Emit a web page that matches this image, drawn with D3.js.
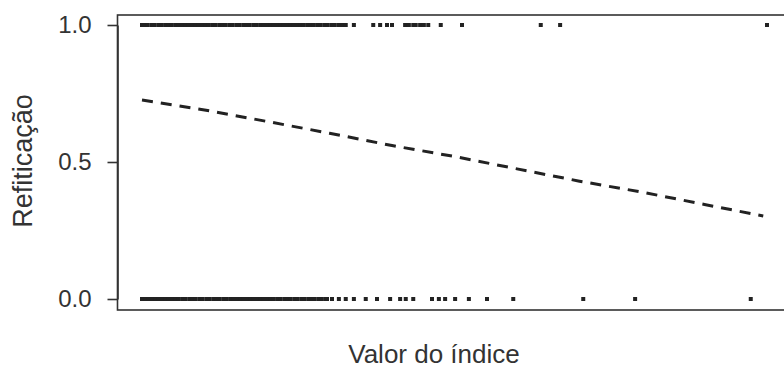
<!DOCTYPE html>
<html>
<head>
<meta charset="utf-8">
<script src="https://cdn.jsdelivr.net/npm/d3@7"></script>
<style>
  html, body { margin: 0; padding: 0; background: #fff; }
  svg { display: block; }
  .axis text { font-family: "Liberation Sans", Arial, sans-serif; font-size: 24px; fill: #333; }
</style>
</head>
<body>
<div id="chart"></div>
<script>
// observations with Refiticação = 1 (index value)
const xTop = [
  0.00, 0.04, 0.09, 0.15, 0.20, 0.26, 0.31, 0.37, 0.42, 0.47, 0.53, 0.58, 0.64, 0.69, 0.75,
  0.80, 0.86, 0.91, 0.96, 1.02, 1.07, 1.13, 1.18, 1.24, 1.29, 1.34, 1.40, 1.45, 1.51, 1.56,
  1.62, 1.67, 1.72, 1.78, 1.83, 1.89, 1.94, 2.00, 2.05, 2.10, 2.16, 2.21, 2.27, 2.32, 2.38,
  2.43, 2.48, 2.54, 2.59, 2.65, 2.70, 2.75, 2.81, 2.86, 2.92, 2.97, 3.03, 3.08, 3.14, 3.20,
  3.26, 3.39, 3.70, 3.81, 3.92, 4.00, 4.21, 4.27, 4.34, 4.38, 4.45, 4.51, 4.58, 4.78, 5.12,
  6.38, 6.69, 10.00
];

// observations with Refiticação = 0
const xBottom = [
  0.00, 0.05, 0.10, 0.16, 0.21, 0.27, 0.32, 0.38, 0.43, 0.48, 0.54, 0.59, 0.65, 0.70, 0.76,
  0.81, 0.86, 0.92, 0.97, 1.03, 1.08, 1.14, 1.19, 1.24, 1.30, 1.35, 1.41, 1.46, 1.52, 1.57,
  1.62, 1.68, 1.73, 1.79, 1.84, 1.90, 1.95, 2.00, 2.06, 2.11, 2.17, 2.22, 2.28, 2.33, 2.38,
  2.44, 2.49, 2.55, 2.60, 2.66, 2.71, 2.76, 2.82, 2.87, 2.93, 2.96,
  3.04, 3.15, 3.26, 3.39, 3.58, 3.76, 3.97, 4.13, 4.22, 4.34, 4.64, 4.75, 4.85, 5.01, 5.23,
  5.52, 5.94, 7.06, 7.89, 9.74
];

// fitted probability curve
const fitX = [0, 1, 2, 3, 4, 5, 6, 7, 8, 9, 9.94];
const fitY = [0.726, 0.69, 0.648, 0.605, 0.56, 0.52, 0.475, 0.43, 0.39, 0.345, 0.303];

const yTicks = [0, 0.5, 1];

const W = 784, H = 369;
const svg = d3.select("#chart").append("svg")
  .attr("width", W)
  .attr("height", H);

const x = d3.scaleLinear().domain([0, 10]).range([142, 767]);
const y = d3.scaleLinear().domain([0, 1]).range([299, 25]);

// plot box (right side runs off the picture)
svg.append("rect")
  .attr("x", 117.5)
  .attr("y", 15)
  .attr("width", 675)
  .attr("height", 295)
  .attr("fill", "none")
  .attr("stroke", "#333")
  .attr("stroke-width", 1.6);

// y axis
svg.append("g")
  .attr("class", "axis")
  .attr("transform", "translate(117.5,0)")
  .call(d3.axisLeft(y).tickValues(yTicks).tickFormat(d3.format(".1f"))
    .tickSize(10).tickSizeOuter(0).tickPadding(16))
  .call(g => g.selectAll("line, path").attr("stroke", "#333").attr("stroke-width", 1.6));

// points
const sz = 4;
svg.append("g").selectAll("rect")
  .data(xTop.map(v => ({ v, r: 1 })).concat(xBottom.map(v => ({ v, r: 0 }))))
  .enter()
  .append("rect")
  .attr("x", d => x(d.v) - sz / 2)
  .attr("y", d => y(d.r) - sz / 2)
  .attr("width", sz)
  .attr("height", sz)
  .attr("fill", "#222");

// fitted curve
const fitLine = d3.line().x(d => x(d[0])).y(d => y(d[1]));
svg.append("path")
  .datum(fitX.map((v, i) => [v, fitY[i]]))
  .attr("d", fitLine)
  .attr("fill", "none")
  .attr("stroke", "#222")
  .attr("stroke-width", 3)
  .attr("stroke-dasharray", "11,8");

// axis titles
svg.append("text")
  .attr("x", 434)
  .attr("y", 363)
  .attr("text-anchor", "middle")
  .style("font-family", "'Liberation Sans', Arial, sans-serif")
  .style("font-size", "26px")
  .style("fill", "#333")
  .text("Valor do índice");

svg.append("text")
  .attr("transform", "translate(32,161) rotate(-90)")
  .attr("text-anchor", "middle")
  .style("font-family", "'Liberation Sans', Arial, sans-serif")
  .style("font-size", "27px")
  .style("fill", "#333")
  .text("Refiticação");
</script>
</body>
</html>
